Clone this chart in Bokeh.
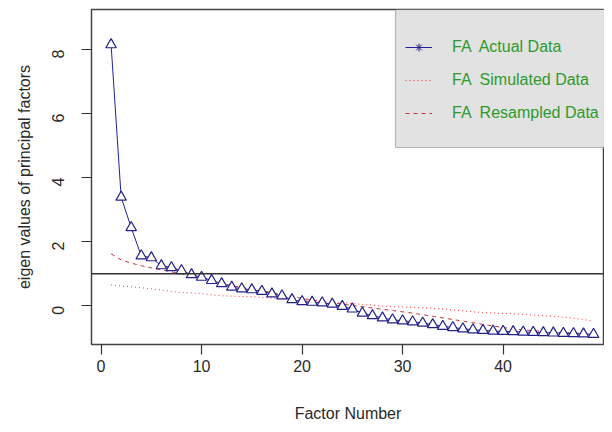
import math
from bokeh.plotting import figure
from bokeh.models import (Range1d, Span, Legend, LegendItem, BoxAnnotation,
                          FixedTicker, ColumnDataSource)
from bokeh.embed import file_html
from bokeh.resources import INLINE

factors = list(range(1, 50))
actual = [8.15, 3.39, 2.44, 1.56, 1.50, 1.25, 1.19, 1.10, 0.97, 0.89,
          0.79, 0.69, 0.58, 0.53, 0.50, 0.45, 0.37, 0.31, 0.19, 0.13,
          0.11, 0.09, 0.05, -0.02, -0.10, -0.23, -0.31, -0.38, -0.44, -0.47,
          -0.50, -0.54, -0.59, -0.64, -0.68, -0.72, -0.75, -0.77, -0.79, -0.80,
          -0.81, -0.82, -0.83, -0.84, -0.85, -0.86, -0.87, -0.88, -0.89]
simulated = [0.65, 0.62, 0.59, 0.56, 0.53, 0.49, 0.45, 0.41, 0.40, 0.38,
             0.34, 0.31, 0.30, 0.29, 0.28, 0.26, 0.24, 0.21, 0.19, 0.17,
             0.15, 0.13, 0.12, 0.10, 0.07, 0.04, 0.02, -0.01, -0.03, -0.04,
             -0.05, -0.06, -0.08, -0.10, -0.13, -0.16, -0.19, -0.21, -0.23, -0.24,
             -0.25, -0.27, -0.29, -0.31, -0.33, -0.36, -0.39, -0.43, -0.48]
resampled = [1.62, 1.43, 1.33, 1.25, 1.18, 1.12, 1.06, 1.00, 0.92, 0.85,
             0.78, 0.70, 0.63, 0.57, 0.52, 0.47, 0.41, 0.35, 0.29, 0.23,
             0.18, 0.13, 0.09, 0.05, 0.01, -0.03, -0.07, -0.11, -0.15, -0.19,
             -0.23, -0.28, -0.33, -0.38, -0.43, -0.48, -0.53, -0.58, -0.63, -0.68,
             -0.72, -0.75, -0.78, -0.80, -0.82, -0.84, -0.85, -0.86, -0.87]
x_ticks = [0, 10, 20, 30, 40]
y_ticks = [0, 2, 4, 6, 8]
labels = ["FA  Actual Data", "FA  Simulated Data", "FA  Resampled Data"]

FONT = "Liberation Sans"
TXT = "#2a2a2a"

p = figure(width=604, height=424, output_backend="svg", toolbar_location=None,
           x_range=Range1d(-0.95, 50.09), y_range=Range1d(-1.21, 9.25),
           min_border_left=91, min_border_right=0, min_border_top=9,
           min_border_bottom=79)
p.background_fill_color = "white"
p.border_fill_color = "white"
p.outline_line_color = "#444444"
p.outline_line_width = 1.5
p.grid.visible = False
# off-screen range used only so the legend can show the asterisk symbol
p.extra_x_ranges = {"legend_only": Range1d(1000, 1001)}

src = ColumnDataSource(dict(x=factors, a=actual, s=simulated, r=resampled))

r_sim = p.line("x", "s", source=src, line_color="red", line_width=1,
               line_dash="1 3", line_alpha=0.8)
r_res = p.line("x", "r", source=src, line_color="#c02020", line_width=1,
               line_dash="4 4", line_alpha=0.9)
r_act = p.line("x", "a", source=src, line_color="#22229a", line_width=1)
p.scatter("x", "a", source=src, marker="triangle", size=10.5,
          line_color="#22228a", line_width=1.2, fill_color="white")
r_ast = p.scatter("x", "a", source=src, x_range_name="legend_only",
                  marker="asterisk", size=10, line_color="#22228a", line_width=1)

p.add_layout(Span(location=1, dimension="width", line_color="#333333",
                  line_width=1.5))

p.add_layout(BoxAnnotation(left=304, left_units="screen", bottom=197,
                           bottom_units="screen", fill_color="#e2e2e2",
                           fill_alpha=1, line_color="#333333", line_width=1.2,
                           level="underlay"))

legend = Legend(items=[LegendItem(label=labels[0], renderers=[r_act, r_ast]),
                       LegendItem(label=labels[1], renderers=[r_sim]),
                       LegendItem(label=labels[2], renderers=[r_res])],
                location=(314, 221), padding=0, margin=0, spacing=13,
                label_height=20, glyph_height=20, glyph_width=27,
                label_standoff=20, border_line_color=None,
                background_fill_alpha=0, label_text_color="#2e9a2e",
                label_text_font=FONT, label_text_font_size="16px")
p.add_layout(legend, "center")

for ax in (p.xaxis[0], p.yaxis[0]):
    ax.axis_line_color = None
    ax.major_tick_line_color = "#333333"
    ax.major_tick_line_width = 1.2
    ax.major_tick_in = 0
    ax.major_tick_out = 10
    ax.minor_tick_line_color = None
    ax.major_label_text_font = FONT
    ax.major_label_text_font_size = "16px"
    ax.major_label_text_color = TXT
    ax.axis_label_text_font = FONT
    ax.axis_label_text_font_size = "16px"
    ax.axis_label_text_color = TXT
    ax.axis_label_text_font_style = "normal"

p.xaxis.ticker = FixedTicker(ticks=x_ticks)
p.yaxis.ticker = FixedTicker(ticks=y_ticks)
p.xaxis.axis_label = "Factor Number"
p.yaxis.axis_label = "eigen values of principal factors"
p.xaxis.major_label_standoff = 5
p.xaxis.axis_label_standoff = 30
p.yaxis.major_label_orientation = math.pi / 2
p.yaxis.major_label_standoff = 23
p.yaxis.axis_label_standoff = 11

open("out.html", "w").write(file_html(p, INLINE))
